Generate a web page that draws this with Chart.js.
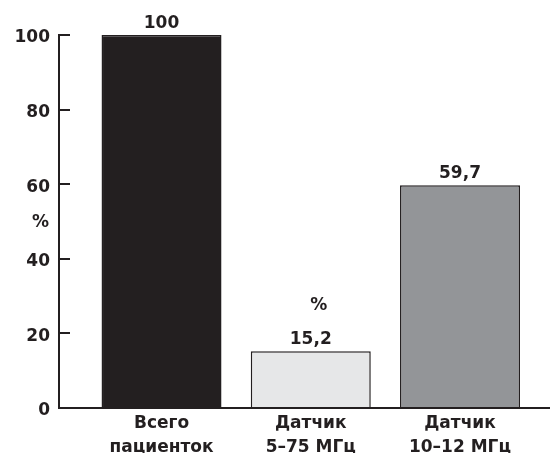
<!DOCTYPE html>
<html>
<head>
<meta charset="utf-8">
<script src="https://cdn.jsdelivr.net/npm/chart.js@4"></script>
<style>
  html, body { margin: 0; padding: 0; background: #fff; }
  #wrap { width: 550px; height: 453px; }
</style>
</head>
<body>
<div id="wrap"><canvas id="grafico"></canvas></div>
<script>
// dados do gráfico
const categorias = [["Всего", "пациенток"], ["Датчик", "5–75 МГц"], ["Датчик", "10–12 МГц"]];
const valores = [100, 15.2, 59.7];
const rotulos = ["100", "15,2", "59,7"];
const ticksY = [0, 20, 40, 60, 80, 100];
const cores = ["#231f20", "#e6e7e8", "#939598"];

const preto = "#231f20";
const fonte = "'DejaVu Sans', sans-serif";

// escreve os rotulos em cima das barras e os "%"
const pluginRotulos = {
  id: "rotulos",
  afterDatasetsDraw(chart) {
    const ctx = chart.ctx;
    const barras = chart.getDatasetMeta(0).data;
    ctx.save();
    ctx.fillStyle = preto;
    ctx.font = "bold 17px " + fonte;
    ctx.textAlign = "center";
    ctx.textBaseline = "alphabetic";
    barras.forEach((barra, i) => {
      ctx.fillText(rotulos[i], barra.x, barra.y - 7);
    });
    // "%" solto acima do 15,2
    ctx.fillText("%", barras[1].x + 8, barras[1].y - 41);
    // "%" do eixo y
    const y = chart.scales.y;
    ctx.textAlign = "right";
    ctx.textBaseline = "middle";
    ctx.fillText("%", y.right - 10, y.getPixelForValue(50) + 1);
    ctx.restore();
  }
};

const dados = {
  datasets: [{
    data: valores.map((v, i) => ({ x: i, y: v })),
    backgroundColor: cores,
    borderColor: preto,
    borderWidth: 1.5,
    borderSkipped: "bottom",
    categoryPercentage: 0.804,
    barPercentage: 1
  }]
};

const config = {
  type: "bar",
  data: dados,
  options: {
    responsive: false,
    animation: false,
    layout: { padding: { top: 35, right: 0, bottom: 0, left: 0 } },
    plugins: { legend: { display: false }, tooltip: { enabled: false } },
    scales: {
      x: {
        type: "linear",
        offset: false,
        min: -0.687,
        max: 2.603,
        afterBuildTicks(scale) {
          scale.ticks = categorias.map((c, i) => ({ value: i }));
        },
        afterFit(scale) { scale.height = 45; },
        border: { display: true, color: preto, width: 2 },
        grid: { offset: false, drawOnChartArea: false, drawTicks: false },
        ticks: {
          color: preto,
          padding: 4,
          maxRotation: 0,
          font: { family: fonte, size: 17, weight: "bold", lineHeight: 1.41 },
          callback: (v) => categorias[v]
        }
      },
      y: {
        min: 0,
        max: 100,
        afterBuildTicks(scale) {
          scale.ticks = ticksY.map(v => ({ value: v }));
        },
        afterFit(scale) { scale.width = 59; },
        border: { display: true, color: preto, width: 2 },
        grid: { drawOnChartArea: false, drawTicks: true, tickLength: -11, color: preto, lineWidth: 2 },
        ticks: {
          color: preto,
          padding: 20,
          labelOffset: 3,
          font: { family: fonte, size: 17, weight: "bold" }
        }
      }
    }
  },
  plugins: [pluginRotulos]
};

const canvas = document.getElementById("grafico");
canvas.width = 550;
canvas.height = 453;
let meuGrafico = new Chart(canvas, config);
</script>
</body>
</html>
